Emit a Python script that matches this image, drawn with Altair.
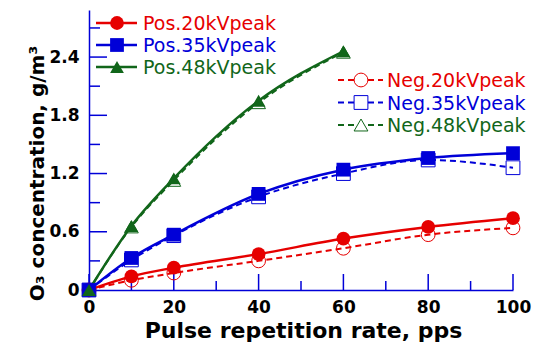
import altair as alt
import pandas as pd

# ---- data ----
rate = [0, 10, 20, 40, 60, 80, 100]
rate48 = [0, 10, 20, 40, 60]
pos20 = [0, 0.14, 0.23, 0.37, 0.53, 0.65, 0.74]
neg20 = [0, 0.10, 0.175, 0.30, 0.43, 0.57, 0.64]
pos35 = [0, 0.33, 0.57, 0.99, 1.24, 1.36, 1.41]
neg35 = [0, 0.31, 0.56, 0.96, 1.20, 1.34, 1.26]
pos48 = [0, 0.66, 1.15, 1.95, 2.46]
neg48 = [0, 0.65, 1.13, 1.93, 2.45]

pos_names = ["Pos.20kVpeak", "Pos.35kVpeak", "Pos.48kVpeak"]
neg_names = ["Neg.20kVpeak", "Neg.35kVpeak", "Neg.48kVpeak"]
colors = ["#e60000", "#0000d8", "#11661a"]
shapes = ["circle", "square", "triangle-up"]

x_ticks_major = [0, 20, 40, 60, 80, 100]
x_ticks_minor = [10, 30, 50, 70, 90]
y_ticks_major = [0, 0.6, 1.2, 1.8, 2.4]
y_ticks_minor = [0.3, 0.9, 1.5, 2.1, 2.7]

W, H = 424, 280
XMAX, YMAX = 100, 2.885

rows = []
for name, xs_, ys_ in [(pos_names[0], rate, pos20), (pos_names[1], rate, pos35), (pos_names[2], rate48, pos48)]:
    for xv, yv in zip(xs_, ys_):
        rows.append({"x": xv, "y": yv, "series": name, "kind": "pos"})
for name, xs_, ys_ in [(neg_names[0], rate, neg20), (neg_names[1], rate, neg35), (neg_names[2], rate48, neg48)]:
    for xv, yv in zip(xs_, ys_):
        rows.append({"x": xv, "y": yv, "series": name, "kind": "neg"})
df = pd.DataFrame(rows)

all_names = pos_names + neg_names
color_scale = alt.Scale(domain=all_names, range=colors + colors)
shape_scale = alt.Scale(domain=all_names, range=shapes + shapes)
xs = alt.Scale(domain=[0, XMAX], nice=False, zero=False)
ys = alt.Scale(domain=[0, YMAX], nice=False, zero=False)

FONT = "DejaVu Sans"
AXC = "#0000d8"

x_axis = alt.Axis(
    title="Pulse repetition rate, pps", values=x_ticks_major, format="d",
    ticks=False, grid=False, domainColor=AXC, domainWidth=1.5,
    labelFont=FONT, labelFontWeight="bold", labelFontSize=17, labelColor="black",
    labelPadding=9, labelFlush=False,
    titleFont=FONT, titleFontWeight="bold", titleFontSize=22, titleColor="black",
    titleBaseline="alphabetic", titleY=47, titleX=W / 2 + 2,
)
y_axis = alt.Axis(
    title="O₃ concentration, g/m³", values=y_ticks_major, format=".1~f",
    ticks=False, grid=False, domainColor=AXC, domainWidth=1.5,
    labelFont=FONT, labelFontWeight="bold", labelFontSize=17, labelColor="black",
    labelPadding=10, labelFlush=False,
    titleFont=FONT, titleFontWeight="bold", titleFontSize=20, titleColor="black",
    titleAngle=270, titleAlign="center", titleBaseline="alphabetic",
    titleX=-46, titleY=163,
)

def X(field):
    return alt.X(field, type="quantitative", scale=xs, axis=x_axis)

def Y(field):
    return alt.Y(field, type="quantitative", scale=ys, axis=y_axis)

pos_df = df[df.kind == "pos"]
neg_df = df[df.kind == "neg"]

color_enc = alt.Color("series:N", scale=color_scale, legend=None)
shape_enc = alt.Shape("series:N", scale=shape_scale, legend=None)

neg_lines = alt.Chart(neg_df).mark_line(strokeWidth=2, strokeDash=[6, 4], interpolate="monotone").encode(
    x=X("x"), y=Y("y"), color=color_enc, detail="series:N")
neg_pts = alt.Chart(neg_df).mark_point(filled=False, size=190, strokeWidth=1, opacity=1).encode(
    x=X("x"), y=Y("y"), color=color_enc, shape=shape_enc)
pos_lines = alt.Chart(pos_df).mark_line(strokeWidth=2.5, interpolate="monotone").encode(
    x=X("x"), y=Y("y"), color=color_enc, detail="series:N")
pos_pts = alt.Chart(pos_df).mark_point(filled=True, size=190, opacity=1).encode(
    x=X("x"), y=Y("y"), color=color_enc, shape=shape_enc)

# inward ticks
xt = pd.DataFrame({"t": x_ticks_major + x_ticks_minor,
                   "len": [16] * len(x_ticks_major) + [9] * len(x_ticks_minor)})
xt["y0"] = 0.0
xt["y1"] = xt["len"] / H * YMAX
x_tick_layer = alt.Chart(xt).mark_rule(color=AXC, strokeWidth=1.5).encode(
    x=X("t"), y=Y("y0"), y2="y1:Q")
yt = pd.DataFrame({"t": y_ticks_major[1:] + y_ticks_minor,
                   "len": [18] * (len(y_ticks_major) - 1) + [11] * len(y_ticks_minor)})
yt["x0"] = 0.0
yt["x1"] = yt["len"] / W * XMAX
y_tick_layer = alt.Chart(yt).mark_rule(color=AXC, strokeWidth=1.5).encode(
    y=Y("t"), x=X("x0"), x2="x1:Q")

# manual legends (pixel positions converted to data units)
def px2x(p):
    return p / W * XMAX

def py2y(p):
    return (H - p) / H * YMAX

leg_rows = []
for i, n in enumerate(pos_names):
    leg_rows.append({"series": n, "kind": "pos", "x0": px2x(7), "x1": px2x(48), "xs": px2x(28),
                     "xt": px2x(54), "y": py2y(13 + 22 * i)})
for i, n in enumerate(neg_names):
    leg_rows.append({"series": n, "kind": "neg", "x0": px2x(249), "x1": px2x(294), "xs": px2x(272),
                     "xt": px2x(298), "y": py2y(70 + 22.5 * i)})
leg = pd.DataFrame(leg_rows)
lp = leg[leg.kind == "pos"]
ln = leg[leg.kind == "neg"]

leg_pos_line = alt.Chart(lp).mark_rule(strokeWidth=2.5).encode(
    x=X("x0"), x2="x1:Q", y=Y("y"), color=color_enc)
leg_pos_pt = alt.Chart(lp).mark_point(filled=True, size=190, opacity=1).encode(
    x=X("xs"), y=Y("y"), color=color_enc, shape=shape_enc)
leg_neg_line = alt.Chart(ln).mark_rule(strokeWidth=2, strokeDash=[6, 4]).encode(
    x=X("x0"), x2="x1:Q", y=Y("y"), color=color_enc)
leg_neg_pt = alt.Chart(ln).mark_point(filled=False, size=190, strokeWidth=1, opacity=1, fill="white", fillOpacity=1).encode(
    x=X("xs"), y=Y("y"), color=color_enc, shape=shape_enc)
leg_text = alt.Chart(leg).mark_text(align="left", baseline="middle", font=FONT, fontSize=19, dy=1).encode(
    x=X("xt"), y=Y("y"), text="series:N", color=color_enc)

chart = alt.layer(
    neg_lines, x_tick_layer, y_tick_layer, neg_pts, pos_lines, pos_pts,
    leg_pos_line, leg_pos_pt, leg_neg_line, leg_neg_pt, leg_text,
).properties(
    width=W, height=H,
    autosize=alt.AutoSizeParams(type="none"),
    padding={"left": 89, "top": 10, "right": 30, "bottom": 52},
    background="white",
).configure_view(stroke=None)

chart.save("out.html", embed_options={"renderer": "svg", "actions": False})
